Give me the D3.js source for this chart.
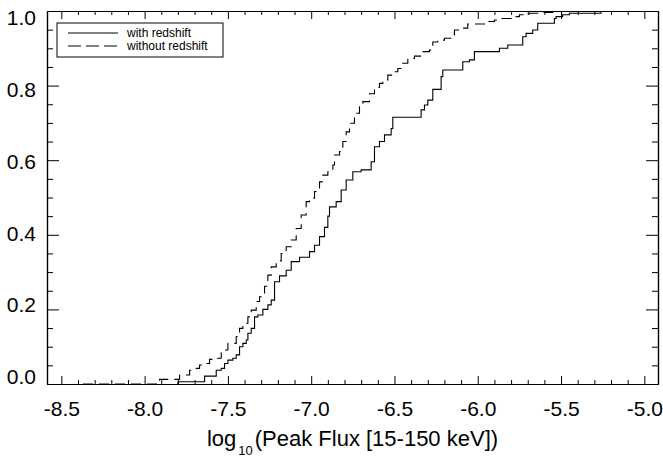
<!DOCTYPE html>
<html>
<head>
<meta charset="utf-8">
<script src="https://cdn.jsdelivr.net/npm/d3@7"></script>
<style>
  body { margin: 0; background: #fff; }
  text { font-family: "Liberation Sans", Arial, Helvetica, sans-serif; fill: #000; }
</style>
</head>
<body>
<svg id="chart"></svg>
<script>
// cumulative fraction steps: x = log10 peak flux where the curve jumps, y = value after the jump
var withX = [-7.80, -7.80, -7.64, -7.57, -7.54, -7.52, -7.50, -7.47, -7.45, -7.43, -7.41, -7.39, -7.38, -7.36,
    -7.34, -7.32, -7.29, -7.26, -7.24, -7.22, -7.19, -7.15, -7.12, -7.07, -7.01, -6.98, -6.95, -6.92, -6.90,
    -6.89, -6.85, -6.82, -6.79, -6.75, -6.70, -6.64, -6.62, -6.59, -6.56, -6.52, -6.51, -6.34, -6.32, -6.30,
    -6.27, -6.22, -6.21, -6.09, -6.05, -6.02, -5.87, -5.82, -5.73, -5.71, -5.67, -5.64, -5.54, -5.53, -5.49,
    -5.45, -5.26];
var withY = [0, 0.006, 0.021, 0.037, 0.042, 0.055, 0.064, 0.069, 0.078, 0.100, 0.109, 0.118, 0.136, 0.149,
    0.180, 0.185, 0.200, 0.212, 0.225, 0.274, 0.290, 0.305, 0.328, 0.340, 0.355, 0.372, 0.395, 0.420, 0.450,
    0.475, 0.489, 0.520, 0.547, 0.569, 0.574, 0.596, 0.636, 0.650, 0.668, 0.685, 0.715, 0.735, 0.748, 0.761,
    0.790, 0.824, 0.842, 0.864, 0.869, 0.891, 0.900, 0.909, 0.931, 0.940, 0.949, 0.967, 0.980, 0.985, 0.990,
    0.994, 1.000];

var withoutX = [-8.37, -7.91, -7.79, -7.73, -7.69, -7.67, -7.63, -7.61, -7.56, -7.54, -7.50, -7.45, -7.43, -7.41,
    -7.38, -7.36, -7.33, -7.31, -7.28, -7.26, -7.24, -7.21, -7.18, -7.15, -7.12, -7.09, -7.06, -7.03, -7.01,
    -6.98, -6.95, -6.93, -6.90, -6.87, -6.86, -6.83, -6.81, -6.79, -6.77, -6.74, -6.71, -6.69, -6.65, -6.62,
    -6.59, -6.57, -6.54, -6.51, -6.48, -6.46, -6.42, -6.38, -6.34, -6.29, -6.27, -6.24, -6.20, -6.16, -6.14,
    -6.10, -6.06, -5.95, -5.90, -5.86, -5.80, -5.75, -5.69, -5.63, -5.55];
var withoutY = [0, 0.0125, 0.024, 0.037, 0.042, 0.051, 0.055, 0.066, 0.069, 0.091, 0.109, 0.127, 0.149, 0.163,
    0.180, 0.198, 0.221, 0.234, 0.262, 0.292, 0.314, 0.330, 0.350, 0.368, 0.386, 0.417, 0.453, 0.489, 0.498,
    0.516, 0.542, 0.560, 0.569, 0.587, 0.614, 0.623, 0.650, 0.676, 0.699, 0.726, 0.743, 0.757, 0.778, 0.795,
    0.806, 0.815, 0.828, 0.837, 0.846, 0.860, 0.873, 0.879, 0.891, 0.895, 0.917, 0.922, 0.927, 0.931, 0.949,
    0.954, 0.965, 0.972, 0.976, 0.980, 0.985, 0.990, 0.994, 0.996, 1.000];

var xMajor = [-8.5, -8.0, -7.5, -7.0, -6.5, -6.0, -5.5, -5.0];
var xMinor = [-8.4, -8.3, -8.2, -8.1, -7.9, -7.8, -7.7, -7.6, -7.4, -7.3, -7.2, -7.1, -6.9, -6.8, -6.7, -6.6,
    -6.4, -6.3, -6.2, -6.1, -5.9, -5.8, -5.7, -5.6, -5.4, -5.3, -5.2, -5.1];
var yMajor = [0.0, 0.2, 0.4, 0.6, 0.8, 1.0];
var yMinor = [0.05, 0.1, 0.15, 0.25, 0.3, 0.35, 0.45, 0.5, 0.55, 0.65, 0.7, 0.75, 0.85, 0.9, 0.95];
var seriesNames = ["with redshift", "without redshift"];

var margin = { top: 11, right: 5, bottom: 80, left: 47 },
    width = 663 - margin.left - margin.right,
    height = 464 - margin.top - margin.bottom;

var svg = d3.select("#chart")
    .attr("width", 663)
    .attr("height", 464)
    .append("g")
    .attr("transform", "translate(" + margin.left + "," + margin.top + ")");

var x = d3.scaleLinear().domain([-8.586, -4.918]).range([0, width]);
var y = d3.scaleLinear().domain([0, 1]).range([height, 0]);

function fmt(d) { return d.toFixed(1); }

// bottom axis with labels
svg.append("g")
    .attr("class", "x axis")
    .attr("transform", "translate(0," + height + ")")
    .call(d3.axisBottom(x).tickValues(xMajor).tickSizeInner(-8).tickSizeOuter(0).tickPadding(17).tickFormat(fmt));
svg.append("g")
    .attr("transform", "translate(0," + height + ")")
    .call(d3.axisBottom(x).tickValues(xMinor).tickSizeInner(-4).tickSizeOuter(0).tickFormat(""));

// top axis
svg.append("g")
    .call(d3.axisTop(x).tickValues(xMajor).tickSizeInner(-8).tickSizeOuter(0).tickFormat(""));
svg.append("g")
    .call(d3.axisTop(x).tickValues(xMinor).tickSizeInner(-4).tickSizeOuter(0).tickFormat(""));

// left axis with labels
svg.append("g")
    .attr("class", "y axis")
    .call(d3.axisLeft(y).tickValues(yMajor).tickSizeInner(-12).tickSizeOuter(0).tickPadding(11).tickFormat(fmt));
svg.append("g")
    .call(d3.axisLeft(y).tickValues(yMinor).tickSizeInner(-6).tickSizeOuter(0).tickFormat(""));

// right axis
svg.append("g")
    .attr("transform", "translate(" + width + ",0)")
    .call(d3.axisRight(y).tickValues(yMajor).tickSizeInner(-12).tickSizeOuter(0).tickFormat(""));
svg.append("g")
    .attr("transform", "translate(" + width + ",0)")
    .call(d3.axisRight(y).tickValues(yMinor).tickSizeInner(-6).tickSizeOuter(0).tickFormat(""));

svg.selectAll(".domain").attr("stroke", "#000").attr("stroke-width", 1.2);
svg.selectAll(".tick line").attr("stroke", "#000").attr("stroke-width", 1);
svg.selectAll(".tick text").attr("font-size", 21).style("font-family", "'Liberation Sans', Arial, sans-serif");
// y labels sit a little inside the frame at the ends, as in the original
svg.selectAll(".y.axis .tick text").attr("y", function (d) { return (d - 0.5) * 14; });

// x title
var title = svg.append("text")
    .attr("x", width / 2)
    .attr("y", height + 62)
    .attr("text-anchor", "middle")
    .attr("font-size", 22);
title.append("tspan").text("log");
title.append("tspan").attr("font-size", 13).attr("dx", 2).attr("dy", 9).text("10");
title.append("tspan").attr("dx", 2).attr("dy", -9).text("(Peak Flux [15-150 keV])");

// curves
var line = d3.line()
    .x(function (d) { return x(d[0]); })
    .y(function (d) { return y(d[1]); })
    .curve(d3.curveStepAfter);

svg.append("path")
    .datum(d3.zip(withX, withY))
    .attr("fill", "none")
    .attr("stroke", "#000")
    .attr("stroke-width", 1.1)
    .attr("d", line);

svg.append("path")
    .datum(d3.zip(withoutX, withoutY))
    .attr("fill", "none")
    .attr("stroke", "#000")
    .attr("stroke-width", 1.1)
    .attr("stroke-dasharray", "10,6")
    .attr("d", line);

// legend
var legend = svg.append("g").attr("transform", "translate(10,12)");
legend.append("rect")
    .attr("width", 166)
    .attr("height", 34)
    .attr("fill", "#fff")
    .attr("stroke", "#000")
    .attr("stroke-width", 1);
seriesNames.forEach(function (name, i) {
    var ly = 10 + i * 13;
    legend.append("line")
        .attr("x1", 11).attr("x2", 61)
        .attr("y1", ly).attr("y2", ly)
        .attr("stroke", "#000")
        .attr("stroke-width", 1)
        .attr("stroke-dasharray", i === 1 ? "13,5" : null);
    legend.append("text")
        .attr("x", 70)
        .attr("y", ly + 4)
        .attr("font-size", 12)
        .text(name);
});
</script>
</body>
</html>
